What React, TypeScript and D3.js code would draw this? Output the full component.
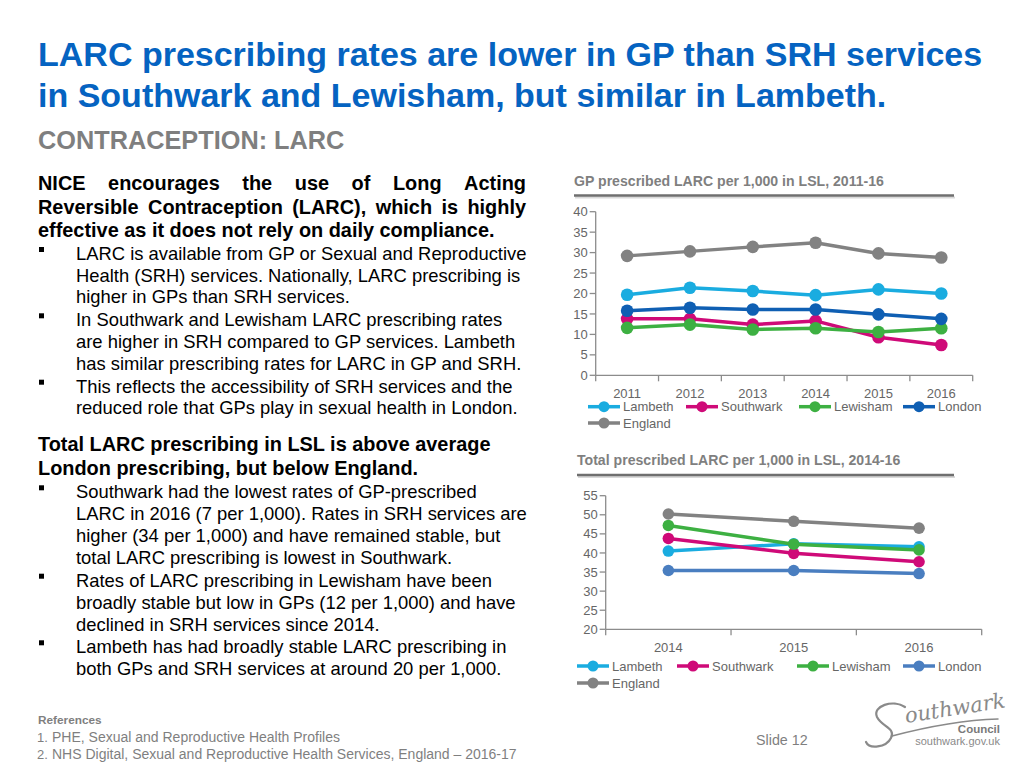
import React from 'react';
import * as d3 from 'd3';

// ---------- DATA ----------
const gpYears = ['2011', '2012', '2013', '2014', '2015', '2016'];
const gpLambeth = [19.7, 21.4, 20.6, 19.6, 21.0, 20.0];
const gpSouthwark = [13.8, 13.8, 12.4, 13.3, 9.3, 7.4];
const gpLewisham = [11.6, 12.4, 11.2, 11.5, 10.6, 11.5];
const gpLondon = [15.8, 16.5, 16.1, 16.1, 14.9, 13.8];
const gpEngland = [29.2, 30.3, 31.4, 32.4, 29.8, 28.8];
const gpYTicks = [0, 5, 10, 15, 20, 25, 30, 35, 40];

const totYears = ['2014', '2015', '2016'];
const totLambeth = [40.5, 42.4, 41.6];
const totSouthwark = [43.8, 39.9, 37.7];
const totLewisham = [47.2, 42.3, 40.8];
const totLondon = [35.4, 35.4, 34.6];
const totEngland = [50.2, 48.3, 46.5];
const totYTicks = [20, 25, 30, 35, 40, 45, 50, 55];

const seriesNames = ['Lambeth', 'Southwark', 'Lewisham', 'London', 'England'];

// ---------- STYLE ----------
const FONT = '"Liberation Sans", Arial, sans-serif';
const BLUE = '#0563C1';
const GREY = '#7f7f7f';
const C_LAMBETH = '#1AACE0';
const C_SOUTHWARK = '#CF0A78';
const C_LEWISHAM = '#3DB042';
const C_LONDON1 = '#0F5FB3';
const C_LONDON2 = '#4A7EC0';
const C_ENGLAND = '#828282';

let measureCtx: CanvasRenderingContext2D | null = null;
function measure(text: string, font: string): number {
  if (!measureCtx) {
    const c = document.createElement('canvas');
    measureCtx = c.getContext('2d');
  }
  if (!measureCtx) return text.length * 9;
  measureCtx.font = font;
  return measureCtx.measureText(text).width;
}

function JustifiedLine({ text, x0, x1, y, size, weight }: any) {
  const words = text.split(' ');
  const font = `${weight} ${size}px "Liberation Sans"`;
  const widths = words.map((w: string) => measure(w, font));
  const total = widths.reduce((a: number, b: number) => a + b, 0);
  const gap = (x1 - x0 - total) / (words.length - 1);
  let cx = x0;
  return (
    <g>
      {words.map((w: string, i: number) => {
        const el = (
          <text key={i} x={cx} y={y} fontSize={size} fontWeight={weight} fontFamily={FONT} fill="#000">
            {w}
          </text>
        );
        cx += widths[i] + gap;
        return el;
      })}
    </g>
  );
}

type Series = { name: string; values: number[]; color: string };

function LineChart(props: {
  title: string;
  titleX: number;
  titleY: number;
  ulX0: number;
  ulX1: number;
  ulY: number;
  years: string[];
  series: Series[];
  xRange: [number, number];
  yRange: [number, number];
  domain: [number, number];
  ticks: number[];
  xLabelY: number;
  legendX: number[];
  legendY: [number, number];
  r: number;
}) {
  const x = d3.scaleBand<string>().domain(props.years).range(props.xRange).padding(0);
  const y = d3.scaleLinear().domain(props.domain).range(props.yRange);
  const line = d3
    .line<number>()
    .x((_, i) => (x(props.years[i]) as number) + x.bandwidth() / 2)
    .y((d) => y(d));
  const axisColor = '#8c8c8c';
  const [xl, xr] = props.xRange;
  const yb = y(props.domain[0]);
  const yt = y(props.domain[1]);
  return (
    <g>
      <text x={props.titleX} y={props.titleY} fontSize={14.1} fontWeight="bold" fontFamily={FONT} fill={GREY}>
        {props.title}
      </text>
      <line x1={props.ulX0 + 1} x2={props.ulX1 + 1} y1={props.ulY + 2} y2={props.ulY + 2} stroke="#d9d9d9" strokeWidth={2} />
      <line x1={props.ulX0} x2={props.ulX1} y1={props.ulY} y2={props.ulY} stroke="#6f6f6f" strokeWidth={2.5} />
      {/* axes */}
      <line x1={xl} x2={xl} y1={yt} y2={yb} stroke={axisColor} strokeWidth={1.3} />
      <line x1={xl} x2={xr} y1={yb} y2={yb} stroke={axisColor} strokeWidth={1.3} />
      {props.ticks.map((t) => (
        <g key={t}>
          <line x1={xl - 6} x2={xl} y1={y(t)} y2={y(t)} stroke={axisColor} strokeWidth={1.3} />
          <text x={xl - 8} y={y(t)} dy="0.35em" textAnchor="end" fontSize={13} fontFamily={FONT} fill="#666">
            {t}
          </text>
        </g>
      ))}
      {props.years.map((yr, i) => (
        <g key={yr}>
          <line
            x1={x(yr) as number}
            x2={x(yr) as number}
            y1={yb}
            y2={yb + 6}
            stroke={axisColor}
            strokeWidth={1.3}
          />
          {i === props.years.length - 1 && (
            <line x1={xr} x2={xr} y1={yb} y2={yb + 6} stroke={axisColor} strokeWidth={1.3} />
          )}
          <text
            x={(x(yr) as number) + x.bandwidth() / 2}
            y={props.xLabelY}
            textAnchor="middle"
            fontSize={13}
            fontFamily={FONT}
            fill="#666"
          >
            {yr}
          </text>
        </g>
      ))}
      {/* series */}
      {props.series.map((s) => (
        <g key={s.name}>
          <path d={line(s.values) || ''} fill="none" stroke={s.color} strokeWidth={3.5} strokeLinejoin="round" />
          {s.values.map((v, i) => (
            <circle
              key={i}
              cx={(x(props.years[i]) as number) + x.bandwidth() / 2}
              cy={y(v)}
              r={props.r}
              fill={s.color}
            />
          ))}
        </g>
      ))}
      {/* legend */}
      {props.series.map((s, i) => {
        const lx = i < 4 ? props.legendX[i] : props.legendX[0];
        const ly = i < 4 ? props.legendY[0] : props.legendY[1];
        return (
          <g key={'lg' + s.name}>
            <line x1={lx} x2={lx + 32} y1={ly} y2={ly} stroke={s.color} strokeWidth={3.5} />
            <circle cx={lx + 16} cy={ly} r={5.5} fill={s.color} />
            <text x={lx + 35} y={ly} dy="0.35em" fontSize={13} fontFamily={FONT} fill="#666">
              {s.name}
            </text>
          </g>
        );
      })}
    </g>
  );
}

function Bullet({ y }: { y: number }) {
  return <rect x={39} y={y - 13} width={5} height={5} fill="#000" />;
}

function BulletText({ lines, ys }: { lines: string[]; ys: number[] }) {
  return (
    <g>
      <Bullet y={ys[0]} />
      {lines.map((l, i) => (
        <text key={i} x={76} y={ys[i]} fontSize={18.4} fontFamily={FONT} fill="#000">
          {l}
        </text>
      ))}
    </g>
  );
}

export default function App() {
  const gpSeries: Series[] = [
    { name: seriesNames[0], values: gpLambeth, color: C_LAMBETH },
    { name: seriesNames[1], values: gpSouthwark, color: C_SOUTHWARK },
    { name: seriesNames[2], values: gpLewisham, color: C_LEWISHAM },
    { name: seriesNames[3], values: gpLondon, color: C_LONDON1 },
    { name: seriesNames[4], values: gpEngland, color: C_ENGLAND },
  ];
  const totSeries: Series[] = [
    { name: seriesNames[0], values: totLambeth, color: C_LAMBETH },
    { name: seriesNames[1], values: totSouthwark, color: C_SOUTHWARK },
    { name: seriesNames[2], values: totLewisham, color: C_LEWISHAM },
    { name: seriesNames[3], values: totLondon, color: C_LONDON2 },
    { name: seriesNames[4], values: totEngland, color: C_ENGLAND },
  ];
  return (
    <svg
      width={1024}
      height={768}
      style={{ position: 'absolute', left: 0, top: 0, background: '#fff' }}
      fontFamily={FONT}
    >
      <rect width={1024} height={768} fill="#fff" />
      {/* Title */}
      <text x={38} y={66} fontSize={34} fontWeight="bold" fill={BLUE}>
        LARC prescribing rates are lower in GP than SRH services
      </text>
      <text x={38} y={106.5} fontSize={34} fontWeight="bold" fill={BLUE}>
        in Southwark and Lewisham, but similar in Lambeth.
      </text>
      <text x={38} y={148.5} fontSize={25.3} fontWeight="bold" fill={GREY}>
        CONTRACEPTION: LARC
      </text>

      {/* Left text block 1 */}
      <JustifiedLine text="NICE encourages the use of Long Acting" x0={38} x1={526} y={190} size={19.9} weight="bold" />
      <JustifiedLine
        text="Reversible Contraception (LARC), which is highly"
        x0={38}
        x1={526}
        y={213.5}
        size={19.9}
        weight="bold"
      />
      <text x={38} y={236.8} fontSize={19.9} fontWeight="bold" fill="#000">
        effective as it does not rely on daily compliance.
      </text>
      <BulletText
        lines={[
          'LARC is available from GP or Sexual and Reproductive',
          'Health (SRH) services. Nationally, LARC prescribing is',
          'higher in GPs than SRH services.',
        ]}
        ys={[260, 281.7, 303.4]}
      />
      <BulletText
        lines={[
          'In Southwark and Lewisham LARC prescribing rates',
          'are higher in SRH compared to GP services. Lambeth',
          'has similar prescribing rates for LARC in GP and SRH.',
        ]}
        ys={[326.3, 348.2, 370]}
      />
      <BulletText
        lines={[
          'This reflects the accessibility of SRH services and the',
          'reduced role that GPs play in sexual health in London.',
        ]}
        ys={[392.7, 414.4]}
      />

      {/* Left text block 2 */}
      <text x={38} y={450.7} fontSize={19.9} fontWeight="bold" fill="#000">
        Total LARC prescribing in LSL is above average
      </text>
      <text x={38} y={475} fontSize={19.9} fontWeight="bold" fill="#000">
        London prescribing, but below England.
      </text>
      <BulletText
        lines={[
          'Southwark had the lowest rates of GP-prescribed',
          'LARC in 2016 (7 per 1,000). Rates in SRH services are',
          'higher (34 per 1,000) and have remained stable, but',
          'total LARC prescribing is lowest in Southwark.',
        ]}
        ys={[498.3, 520, 541.8, 563.5]}
      />
      <BulletText
        lines={[
          'Rates of LARC prescribing in Lewisham have been',
          'broadly stable but low in GPs (12 per 1,000) and have',
          'declined in SRH services since 2014.',
        ]}
        ys={[586.7, 608.7, 630.6]}
      />
      <BulletText
        lines={['Lambeth has had broadly stable LARC prescribing in', 'both GPs and SRH services at around 20 per 1,000.']}
        ys={[653.3, 675.1]}
      />

      {/* Charts */}
      <LineChart
        title="GP prescribed LARC per 1,000 in LSL, 2011-16"
        titleX={574}
        titleY={186}
        ulX0={574}
        ulX1={954}
        ulY={195.5}
        years={gpYears}
        series={gpSeries}
        xRange={[595.7, 972.7]}
        yRange={[375.3, 211.7]}
        domain={[0, 40]}
        ticks={gpYTicks}
        xLabelY={398}
        legendX={[588, 686, 799, 903]}
        legendY={[406.7, 423]}
        r={6.3}
      />
      <LineChart
        title="Total prescribed LARC per 1,000 in LSL, 2014-16"
        titleX={577}
        titleY={465}
        ulX0={577}
        ulX1={954}
        ulY={475}
        years={totYears}
        series={totSeries}
        xRange={[605.7, 981.7]}
        yRange={[629.3, 495.7]}
        domain={[20, 55]}
        ticks={totYTicks}
        xLabelY={652}
        legendX={[577, 677, 797, 903]}
        legendY={[666, 683]}
        r={5.8}
      />

      {/* Footer */}
      <text x={38} y={724.3} fontSize={11.8} fontWeight="bold" fill={GREY}>
        References
      </text>
      <text x={37} y={741.7} fontSize={13} fill={GREY}>
        1.
      </text>
      <text x={52} y={741.7} fontSize={14} fill={GREY}>
        PHE, Sexual and Reproductive Health Profiles
      </text>
      <text x={37} y={759} fontSize={13} fill={GREY}>
        2.
      </text>
      <text x={52} y={759} fontSize={14} fill={GREY}>
        NHS Digital, Sexual and Reproductive Health Services, England – 2016-17
      </text>
      <text x={756} y={745} fontSize={14.3} fill={GREY}>
        Slide 12
      </text>

      {/* Logo */}
      <g fill="none" stroke="#8a8a8a" strokeWidth={2.2} strokeLinecap="round">
        <path d="M905,707 C893,699 872,706 877,717 C882,727 896,728 891,738 C886,748 869,749 866,742" />
        <path d="M892,736 C930,726 965,720 998,719" strokeWidth={1.5} />
      </g>
      <text
        x={906}
        y={723}
        fontSize={21}
        fontStyle="italic"
        fill="#8a8a8a"
        fontFamily='"DejaVu Serif", serif'
        transform="rotate(-9 906 723)"
      >
        outhwark
      </text>
      <text x={1000} y={733.3} textAnchor="end" fontSize={11.5} fontWeight="bold" fill="#7a7a7a">
        Council
      </text>
      <text x={1000} y={744.5} textAnchor="end" fontSize={11} fill="#8a8a8a">
        southwark.gov.uk
      </text>
    </svg>
  );
}
